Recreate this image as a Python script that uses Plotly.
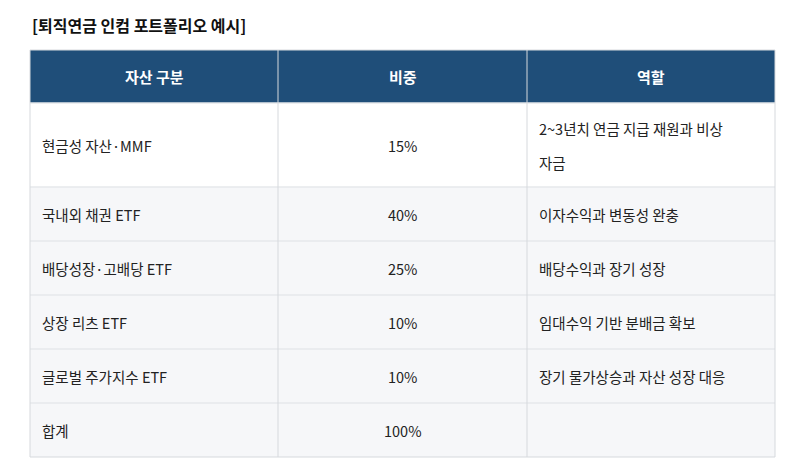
import plotly.graph_objects as go

title = "[퇴직연금 인컴 포트폴리오 예시]"
headers = ["자산 구분", "비중", "역할"]
assets = ["현금성 자산·MMF", "국내외 채권 ETF", "배당성장·고배당 ETF", "상장 리츠 ETF", "글로벌 주가지수 ETF", "합계"]
weights = ["15%", "40%", "25%", "10%", "10%", "100%"]
roles = [["2~3년치 연금 지급 재원과 비상", "자금"], ["이자수익과 변동성 완충"], ["배당수익과 장기 성장"],
         ["임대수익 기반 분배금 확보"], ["장기 물가상승과 자산 성장 대응"], [""]]

W, H = 800, 473
OFF = 8  # page body margin
col_x = [c - OFF for c in [30, 278, 527, 775]]
row_y = [r - OFF for r in [50, 103, 187, 241, 295, 349, 403, 457]]
FONT = "Noto Sans CJK KR"
HEAD = "#1f4e79"
GRID = "#d6d9dd"

shapes, ann = [], []
shapes.append(dict(type="rect", x0=col_x[0], x1=col_x[3], y0=row_y[0], y1=row_y[1],
                   fillcolor=HEAD, line=dict(width=0), layer="below"))
for i, h in enumerate(headers):
    ann.append(dict(x=(col_x[i] + col_x[i + 1]) / 2, y=(row_y[0] + row_y[1]) / 2, text="<b>" + h + "</b>",
                    showarrow=False, font=dict(family=FONT, size=15, color="white"),
                    xanchor="center", yanchor="middle"))
for r in range(len(assets)):
    y0, y1 = row_y[r + 1], row_y[r + 2]
    yc = (y0 + y1) / 2
    shapes.append(dict(type="rect", x0=col_x[0], x1=col_x[3], y0=y0, y1=y1,
                       fillcolor="white" if r == 0 else "#f6f7f9", line=dict(width=0), layer="below"))
    ann.append(dict(x=col_x[0] + 10, y=yc, text=assets[r], showarrow=False, xanchor="left", yanchor="middle",
                    font=dict(family=FONT, size=14.5, color="#222")))
    ann.append(dict(x=(col_x[1] + col_x[2]) / 2, y=yc, text=weights[r], showarrow=False, xanchor="center",
                    yanchor="middle", font=dict(family=FONT, size=14.5, color="#222")))
    lines = roles[r]
    n = len(lines)
    for k, t in enumerate(lines):
        ann.append(dict(x=col_x[2] + 10, y=yc + (k - (n - 1) / 2) * 34, text=t, showarrow=False,
                        xanchor="left", yanchor="middle", font=dict(family=FONT, size=14.5, color="#222")))
for y in row_y:
    c = "#e6e8eb" if y not in (row_y[0], row_y[-1]) else GRID
    shapes.append(dict(type="line", x0=col_x[0], x1=col_x[3], y0=y, y1=y,
                       line=dict(color=c, width=1.5 if c != GRID else 1)))
for x in col_x:
    shapes.append(dict(type="line", x0=x, x1=x, y0=row_y[0], y1=row_y[-1], line=dict(color=GRID, width=1)))

ann.append(dict(x=30 - OFF, y=25 - OFF, text="<b>" + title + "</b>", showarrow=False, xanchor="left",
                yanchor="middle", font=dict(family=FONT, size=16, color="#111")))

fig = go.Figure()
fig.update_layout(width=W, height=H, margin=dict(l=0, r=0, t=0, b=0), paper_bgcolor="white", plot_bgcolor="white",
                  xaxis=dict(range=[0, W], visible=False, fixedrange=True),
                  yaxis=dict(range=[H, 0], visible=False, fixedrange=True),
                  shapes=shapes, annotations=ann, showlegend=False)
fig.write_html("out.html")
